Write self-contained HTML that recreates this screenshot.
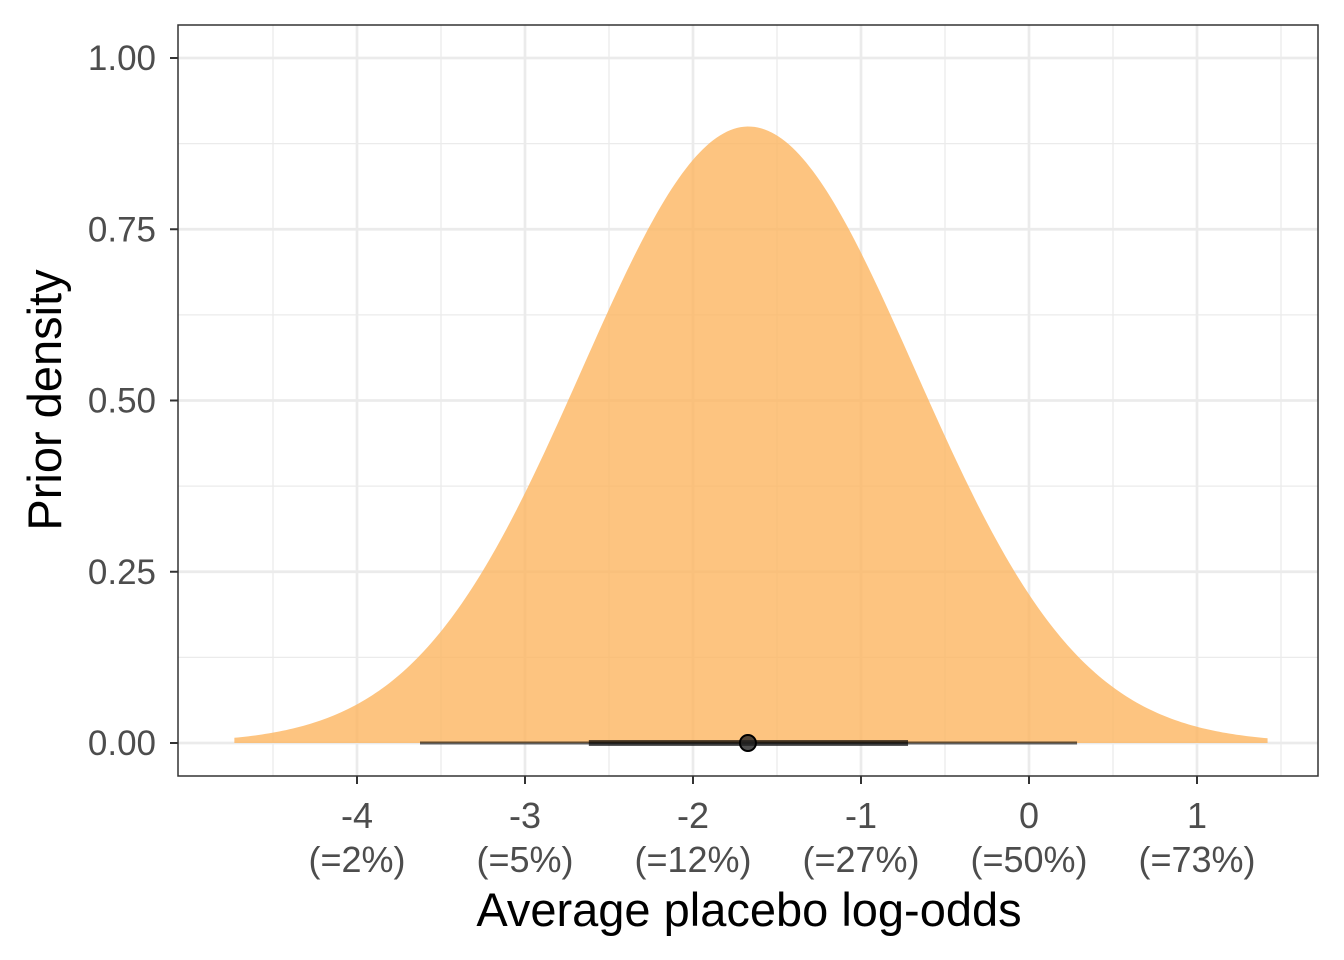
<!DOCTYPE html>
<html><head><meta charset="utf-8"><style>
body{margin:0;background:#fff}
svg{display:block}
text{font-family:"Liberation Sans",sans-serif}
</style></head><body>
<svg id="chart" width="1344" height="960" xmlns="http://www.w3.org/2000/svg"></svg>
<script>
const xTicks = [-4,-3,-2,-1,0,1];
const xTickPct = ["(=2%)","(=5%)","(=12%)","(=27%)","(=50%)","(=73%)"];
const yTicks = [0,0.25,0.5,0.75,1.0];
const yTickLabels = ["0.00","0.25","0.50","0.75","1.00"];
const densityMean = [-1.67];
const densitySd = [0.99];
const slabHeight = [0.9];
const densityRange = [-4.73, 1.42];
const intervalOuter = [-3.625, 0.286];
const intervalInner = [-2.62, -0.72];
const pointEstimate = [-1.673];

const L=178,T=25,R=1318,B=776;
const sx = v => 1029 + v*168;
const sy = v => 743 - v*685;
const NS="http://www.w3.org/2000/svg";
const svg=document.getElementById('chart');
function mk(tag,attrs,name,parent){const e=document.createElementNS(NS,tag);for(const k in attrs)e.setAttribute(k,attrs[k]);


(parent||svg).appendChild(e);return e;}

mk('rect',{x:L,y:T,width:R-L,height:B-T,fill:'#fff'},'panel-background');
for(let i=0;i<yTicks.length-1;i++){const v=(yTicks[i]+yTicks[i+1])/2;mk('line',{x1:L,x2:R,y1:sy(v),y2:sy(v),stroke:'#ebebeb','stroke-width':1.3},'y-minor-grid');}
for(let v=xTicks[0]-0.5;v<=xTicks[xTicks.length-1]+0.5;v+=1){mk('line',{y1:T,y2:B,x1:sx(v),x2:sx(v),stroke:'#ebebeb','stroke-width':1.3},'x-minor-grid');}
yTicks.forEach(v=>mk('line',{x1:L,x2:R,y1:sy(v),y2:sy(v),stroke:'#ebebeb','stroke-width':2.7},'y-major-grid'));
xTicks.forEach(v=>mk('line',{y1:T,y2:B,x1:sx(v),x2:sx(v),stroke:'#ebebeb','stroke-width':2.7},'x-major-grid'));

const mu=densityMean[0],sd=densitySd[0],h=slabHeight[0];
let d='M'+sx(densityRange[0])+','+sy(0);
for(let i=0;i<=300;i++){const x=densityRange[0]+(densityRange[1]-densityRange[0])*i/300;
const y=h*Math.exp(-0.5*((x-mu)/sd)**2);d+=' L'+sx(x).toFixed(2)+','+sy(y).toFixed(2);}
d+=' L'+sx(densityRange[1])+','+sy(0)+' Z';
mk('path',{d:d,fill:'#fdb45c','fill-opacity':0.78},'prior-density-area');

mk('line',{x1:sx(intervalOuter[0]),x2:sx(intervalOuter[1]),y1:sy(0),y2:sy(0),stroke:'#000','stroke-opacity':0.6,'stroke-width':3},'interval-95');
mk('line',{x1:sx(intervalInner[0]),x2:sx(intervalInner[1]),y1:sy(0),y2:sy(0),stroke:'#000','stroke-opacity':0.65,'stroke-width':6},'interval-66');
mk('circle',{cx:sx(pointEstimate[0]),cy:sy(0),r:8,fill:'#222','fill-opacity':0.8,stroke:'#000','stroke-width':2},'point-estimate');

mk('rect',{x:L,y:T,width:R-L,height:B-T,fill:'none',stroke:'#333','stroke-width':1.5},'panel-border');

yTicks.forEach((v,i)=>{mk('line',{x1:L-8,x2:L,y1:sy(v),y2:sy(v),stroke:'#333','stroke-width':2},'y-tick');
const t=mk('text',{x:L-22,y:sy(v)+12,'text-anchor':'end','font-size':35,fill:'#4d4d4d'},'y-tick-label');t.textContent=yTickLabels[i];});
xTicks.forEach((v,i)=>{mk('line',{x1:sx(v),x2:sx(v),y1:B,y2:B+8,stroke:'#333','stroke-width':2},'x-tick');
const t=mk('text',{x:sx(v),y:828,'text-anchor':'middle','font-size':36,fill:'#4d4d4d'},'x-tick-label');t.textContent=String(v);
const t2=mk('text',{x:sx(v),y:872,'text-anchor':'middle','font-size':36,fill:'#4d4d4d'},'x-tick-percent');t2.textContent=xTickPct[i];});

const xt=mk('text',{x:749,y:926,'text-anchor':'middle','font-size':47,fill:'#000'},'x-axis-title');xt.textContent='Average placebo log-odds';
const yt=mk('text',{x:0,y:0,'text-anchor':'middle','font-size':47,fill:'#000',transform:'translate(61,400) rotate(-90)'},'y-axis-title');yt.textContent='Prior density';
</script>
</body></html>
